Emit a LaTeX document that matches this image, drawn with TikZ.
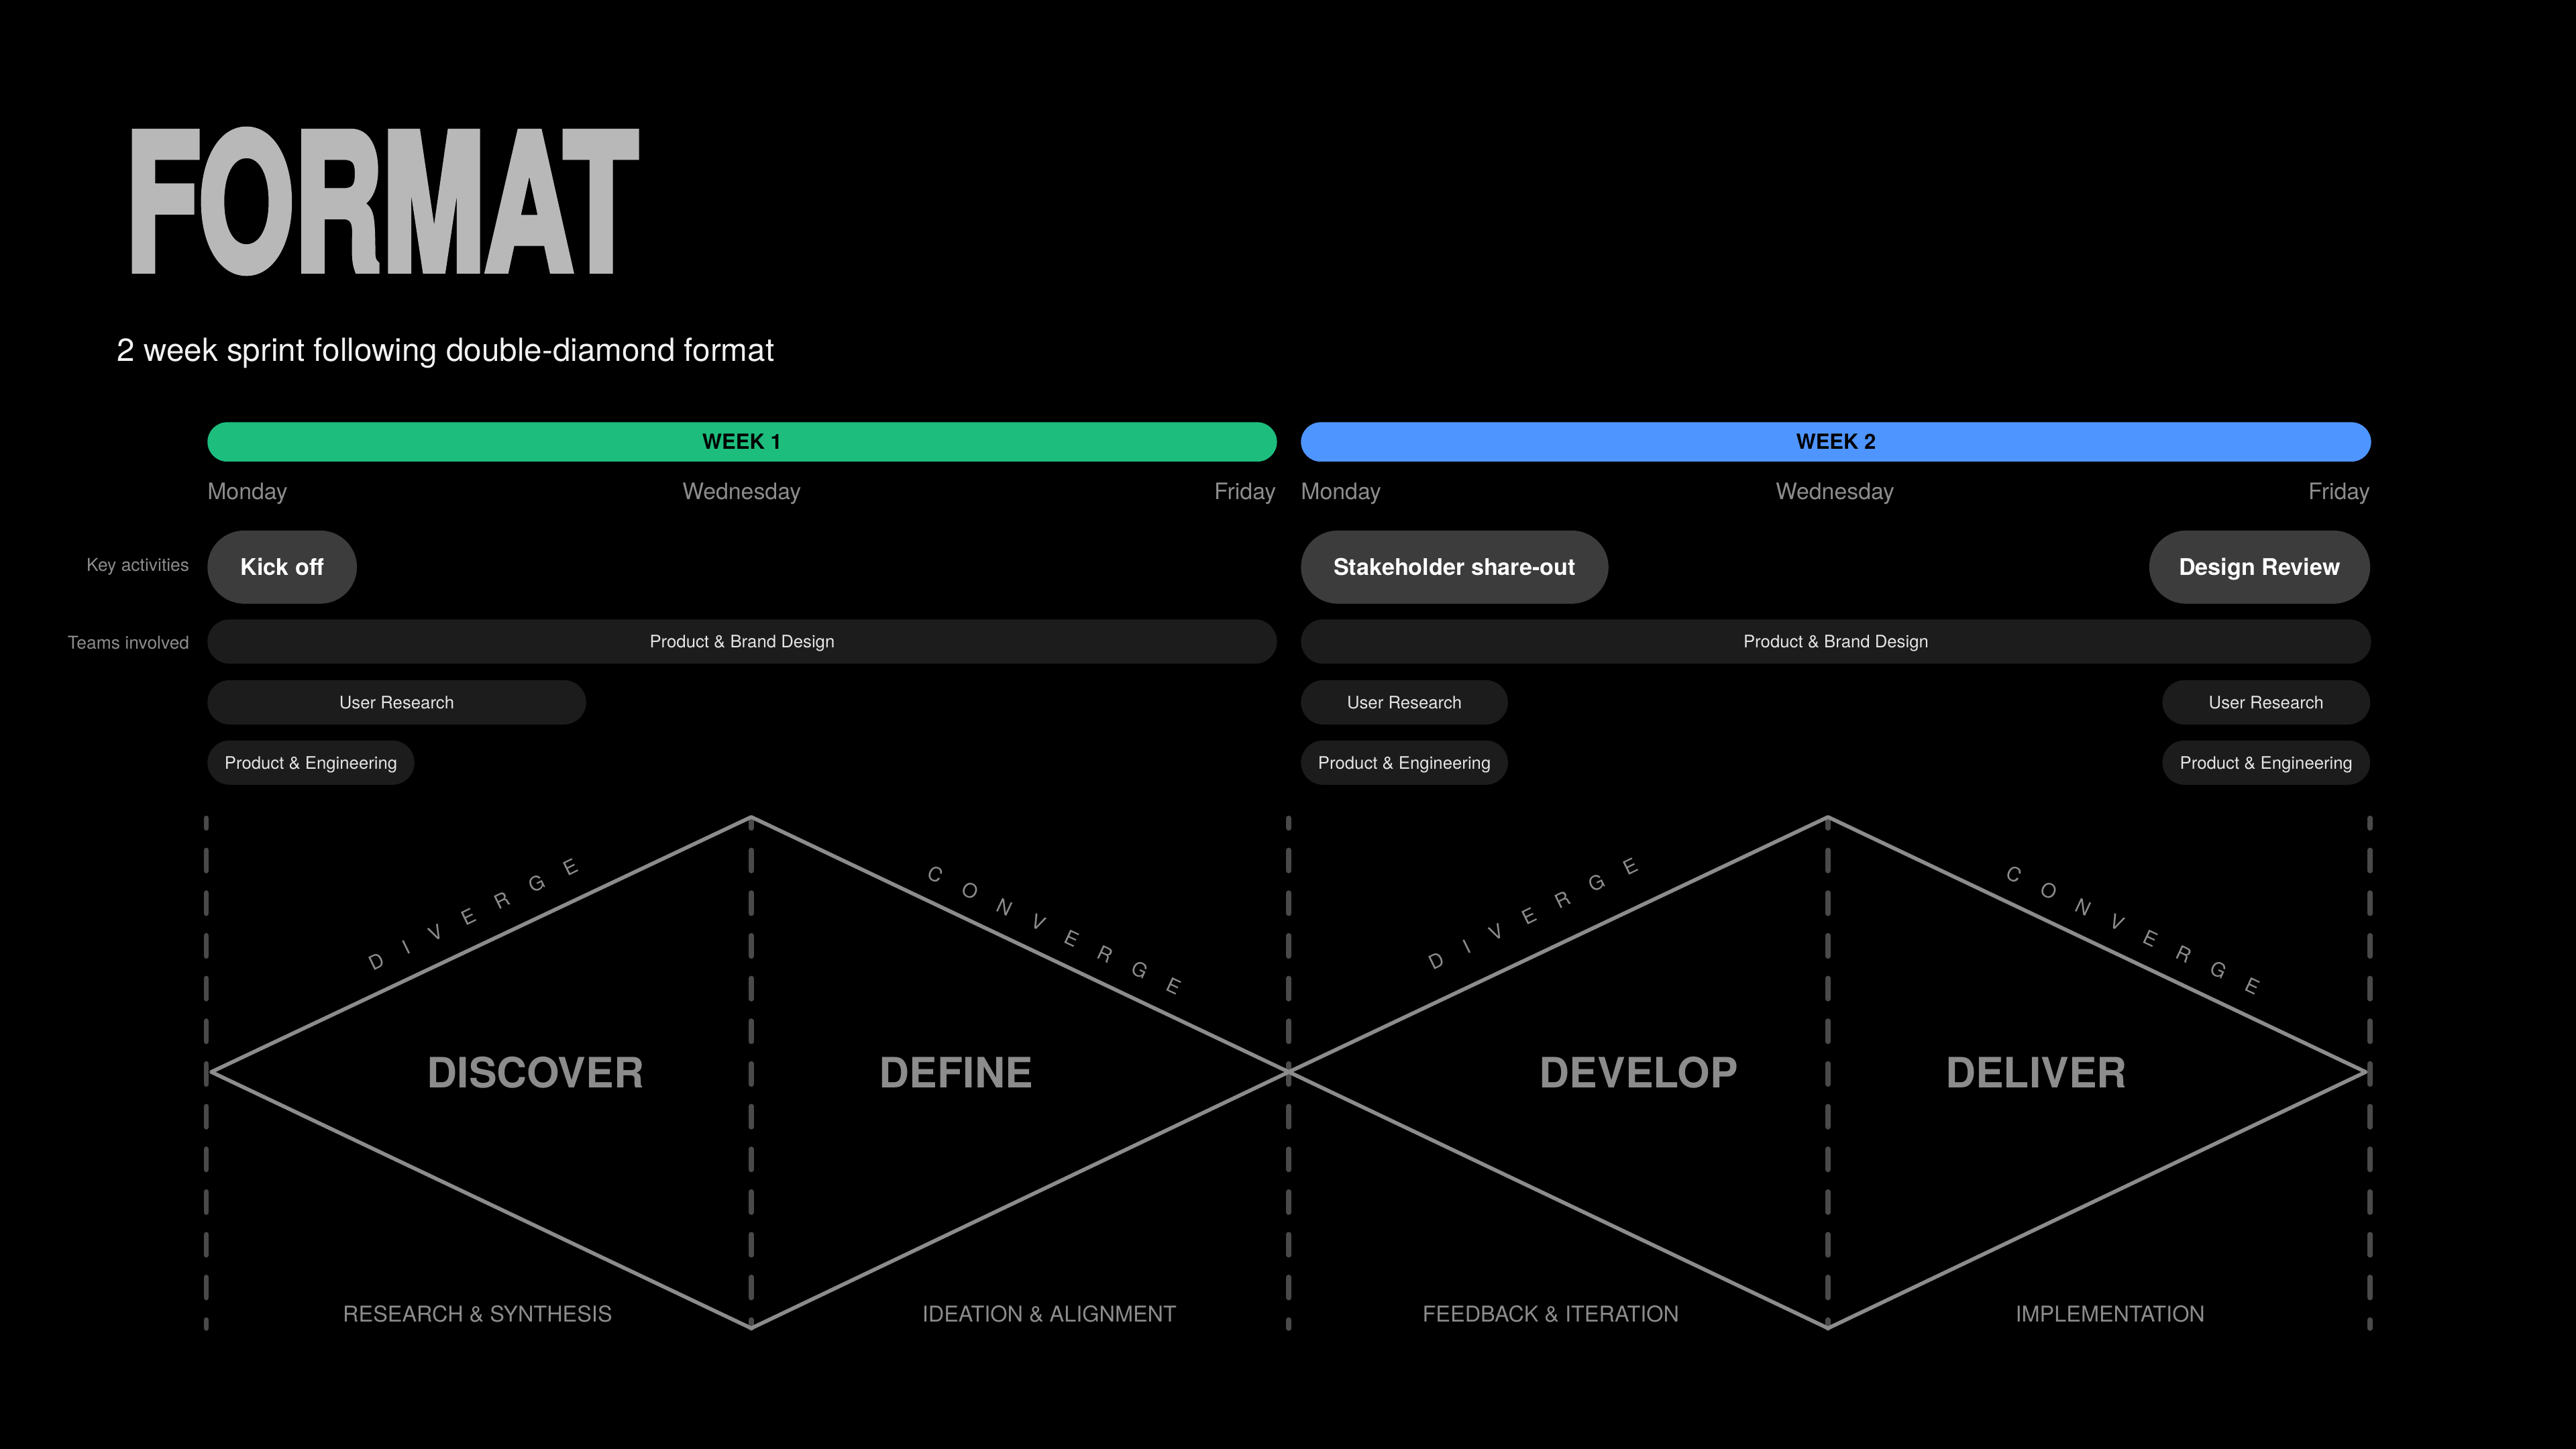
\documentclass[tikz,border=0pt]{standalone}
\usepackage{graphicx}
\usepackage{fontspec}
\setmainfont{TeX Gyre Heros}
\newfontfamily\spacedfont[LetterSpace=120]{TeX Gyre Heros}
\newfontfamily\titlefont[FakeBold=4]{texgyreheros-bold.otf}
\usetikzlibrary{shapes.misc}

\newcommand{\unitpx}{0.6945pt}
\definecolor{weekgreen}{HTML}{1DBD7E}
\definecolor{weekblue}{HTML}{4F95FF}
\definecolor{pillgray}{HTML}{3C3C3C}
\definecolor{teamgray}{HTML}{1C1C1C}
\definecolor{labelgray}{HTML}{8C8C8C}
\definecolor{titlegray}{HTML}{B8B8B8}
\definecolor{dashgray}{HTML}{4A4A4A}

\begin{document}
\begin{tikzpicture}[x=\unitpx, y=-\unitpx,
  weekbar/.style={rounded rectangle, fill=#1, minimum height=24*\unitpx, inner sep=0pt,
    text height=6.3pt, text depth=0pt, font=\bfseries\fontsize{8.8}{10}\selectfont, text=black},
  daylabel/.style={inner sep=0pt, text=labelgray, font=\fontsize{9.6}{11}\selectfont},
  sidelabel/.style={inner sep=0pt, anchor=base east, text=labelgray, font=\fontsize{7.5}{9}\selectfont},
  activity/.style={rounded rectangle, fill=pillgray, minimum height=44.5*\unitpx, inner sep=0pt,
    text height=7pt, text depth=0pt, text=white, font=\bfseries\fontsize{9.7}{11}\selectfont},
  team/.style={rounded rectangle, fill=teamgray, minimum height=27*\unitpx, inner sep=0pt,
    text height=5.3pt, text depth=0pt, text=white!90!black, font=\fontsize{7.3}{9}\selectfont},
  phase/.style={inner sep=0pt, text=labelgray, font=\bfseries\fontsize{17.7}{20}\selectfont},
  focus/.style={inner sep=0pt, text=labelgray, font=\fontsize{9.2}{11}\selectfont},
  motion/.style={inner sep=0pt, text=labelgray, font=\spacedfont\fontsize{8.3}{10}\selectfont},
  dayline/.style={dashgray, line width=2.15pt, line cap=round, dash pattern=on 8.7pt off 9.35pt, dash phase=4.5pt},
  diamondline/.style={labelgray, line width=1.6pt, line join=round}]

\useasboundingbox (0,0) rectangle (1568,882);
\fill[black] (0,0) rectangle (1568,882);

% title
\node[anchor=north west, inner sep=0pt, text=titlegray] (title) at (76,79)
  {\resizebox{216.7pt}{59pt}{\titlefont FORMAT}};
\node[anchor=base west, inner sep=0pt, text=white!95!black, font=\fontsize{13.5}{16}\selectfont] (subtitle) at (71,220)
  {2 week sprint following double-diamond format};

% weeks
\node[weekbar=weekgreen, minimum width=651*\unitpx, anchor=west] (week1) at (126,269) {WEEK 1};
\node[weekbar=weekblue, minimum width=651.4*\unitpx, anchor=west] (week2) at (791.6,269) {WEEK 2};

\node[daylabel, anchor=base west] (mon1) at (126,304) {Monday};
\node[daylabel, anchor=base] (wed1) at (451.5,304) {Wednesday};
\node[daylabel, anchor=base east] (fri1) at (777,304) {Friday};
\node[daylabel, anchor=base west] (mon2) at (791.6,304) {Monday};
\node[daylabel, anchor=base] (wed2) at (1117,304) {Wednesday};
\node[daylabel, anchor=base east] (fri2) at (1443,304) {Friday};

% rows
\node[sidelabel] (keyact) at (115.5,347.7) {Key activities};
\node[sidelabel] (teams) at (115.5,394.9) {Teams involved};

\node[activity, minimum width=91*\unitpx, anchor=west] (kickoff) at (126,345.2) {Kick off};
\node[activity, minimum width=187.2*\unitpx, anchor=west] (shareout) at (791.6,345.2) {Stakeholder share-out};
\node[activity, minimum width=134.5*\unitpx, anchor=east] (review) at (1443,345.2) {Design Review};

\node[team, minimum width=651*\unitpx, anchor=west] (brand1) at (126,390.5) {Product \& Brand Design};
\node[team, minimum width=230.5*\unitpx, anchor=west] (research1) at (126,427.5) {User Research};
\node[team, minimum width=126*\unitpx, anchor=west] (eng1) at (126,464.2) {Product \& Engineering};
\node[team, minimum width=651.4*\unitpx, anchor=west] (brand2) at (791.6,390.5) {Product \& Brand Design};
\node[team, minimum width=126*\unitpx, anchor=west] (research2) at (791.6,427.5) {User Research};
\node[team, minimum width=126*\unitpx, anchor=west] (eng2) at (791.6,464.2) {Product \& Engineering};
\node[team, minimum width=126.5*\unitpx, anchor=east] (research3) at (1443,427.5) {User Research};
\node[team, minimum width=126.5*\unitpx, anchor=east] (eng3) at (1443,464.2) {Product \& Engineering};

% day separators
\foreach \x [count=\i] in {125.6,457.3,784.5,1112.7,1442.7}{
  \coordinate (dtop\i) at (\x,498);
  \coordinate (dbot\i) at (\x,808.5);
  \draw[dayline] (dtop\i) -- (dbot\i);
}

% double diamond
\coordinate (left) at (128.6,652.5);
\coordinate (top1) at (457.3,497.3);
\coordinate (bottom1) at (457.3,808.5);
\coordinate (mid) at (784.5,652.5);
\coordinate (top2) at (1112.7,497.3);
\coordinate (bottom2) at (1112.7,808.5);
\coordinate (right) at (1440,652.5);
\draw[diamondline] (left) -- (top1) -- (mid) -- (bottom1) -- cycle;
\draw[diamondline] (mid) -- (top2) -- (right) -- (bottom2) -- cycle;

\node[phase] (discover) at (326,653) {DISCOVER};
\node[phase] (define) at (582,653) {DEFINE};
\node[phase] (develop) at (997.5,653) {DEVELOP};
\node[phase] (deliver) at (1239.5,653) {DELIVER};

\node[motion, rotate=26] (diverge1) at (288,556.6) {DIVERGE};
\node[motion, rotate=-25.1] (converge1) at (642,566.2) {CONVERGE};
\node[motion, rotate=26] (diverge2) at (933.4,556.3) {DIVERGE};
\node[motion, rotate=-25.1] (converge2) at (1298.5,566.2) {CONVERGE};

\node[focus] (synthesis) at (290.7,799.8) {RESEARCH \& SYNTHESIS};
\node[focus] (ideation) at (638.8,799.8) {IDEATION \& ALIGNMENT};
\node[focus] (iteration) at (944,799.8) {FEEDBACK \& ITERATION};
\node[focus] (implement) at (1284.5,799.8) {IMPLEMENTATION};
\end{tikzpicture}
\end{document}
